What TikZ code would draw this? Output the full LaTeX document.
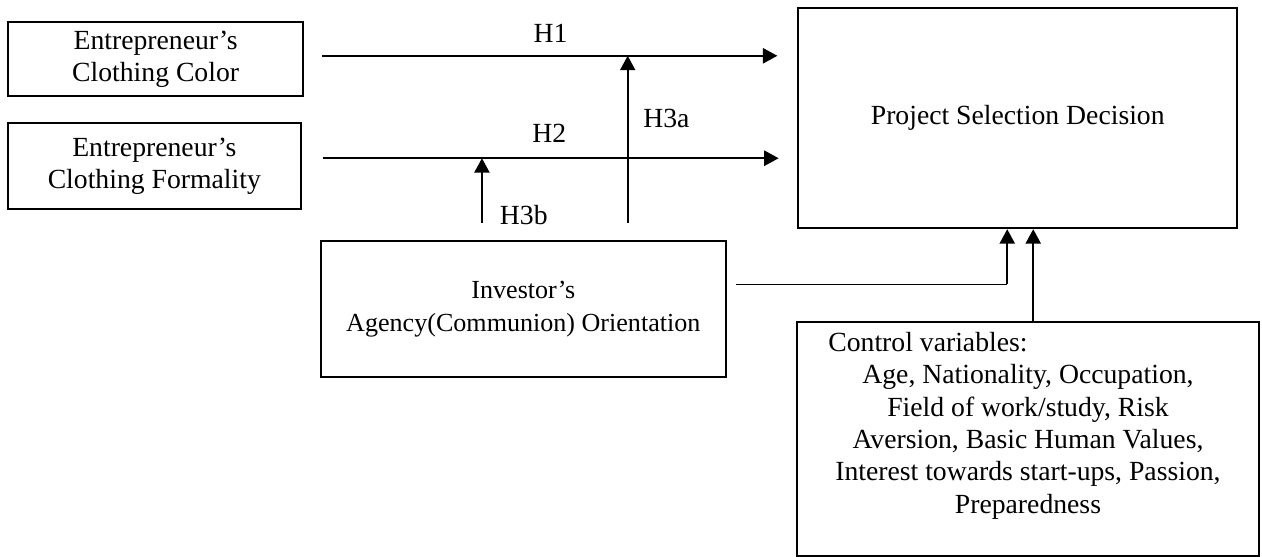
\documentclass[tikz,border=0pt]{standalone}
\usepackage{fontspec}
\setmainfont{Liberation Serif}
\usetikzlibrary{arrows.meta}

\tikzset{
    every node/.style={font=\fontsize{12}{14}\selectfont},
    factor/.style={draw, line width=0.9pt, align=center},
    link/.style={line width=0.9pt, -{Triangle[length=0.22cm,width=0.23cm]}},
    thinlink/.style={line width=0.45pt}
}

\begin{document}
\begin{tikzpicture}
        \useasboundingbox (0,0) rectangle (19.22,8.47);
        % factors
        \node[factor, minimum width=4.49cm, minimum height=1.13cm] (color) at (2.37,7.57) {Entrepreneur's\\Clothing Color};
        \node[factor, minimum width=4.46cm, minimum height=1.31cm] (formality) at (2.35,5.94) {Entrepreneur's\\Clothing Formality};
        \node[factor, minimum width=6.17cm, minimum height=2.07cm, font=\fontsize{11.3}{14}\selectfont] (investor) at (7.97,3.76) {Investor's\\Agency(Communion) Orientation};
        \node[factor, minimum width=6.69cm, minimum height=3.35cm] (project) at (15.50,6.67) {Project Selection Decision};
        \node[factor, align=flush left, anchor=north west, inner xsep=0.48cm, inner ysep=0pt, text width=6.08cm, text height=0.45cm, text depth=3.115cm] (control) at (12.12,3.58)
            {Control variables:\par\centering Age, Nationality, Occupation,\\Field of work/study, Risk\\Aversion, Basic Human Values,\\Interest towards start-ups, Passion,\\Preparedness\par};

        % hypotheses
        \coordinate (h1s) at ([yshift=0.05cm]color.east);
        \coordinate (h2s) at ([yshift=0.12cm]formality.east);
        \draw[link, shorten <=0.28cm, shorten >=0.3cm] (h1s) -- (h1s -| project.west) node[midway, above=2pt] {H1};
        \draw[link, shorten <=0.32cm, shorten >=0.28cm] (h2s) -- (h2s -| project.west) node[midway, above=3pt] {H2};

        \coordinate (m1) at ([xshift=1.59cm]investor.north);
        \coordinate (m2) at ([xshift=-0.63cm]investor.north);
        \draw[link, shorten <=0.26cm] (m1) -- (m1 |- h1s) node[pos=0.66, right=3pt] {H3a};
        \draw[link, shorten <=0.26cm] (m2) -- (m2 |- h2s) node[pos=0.31, right=4pt] {H3b};

        % moderator and controls
        \coordinate (bend) at (15.34,4.14);
        \draw[thinlink] ([xshift=0.14cm, yshift=0.38cm]investor.east) -- (bend);
        \draw[link] (bend) -- (bend |- project.south);
        \coordinate (c1) at ([xshift=0.08cm]control.north);
        \draw[link] (c1) -- (c1 |- project.south);
    \end{tikzpicture}
\end{document}
